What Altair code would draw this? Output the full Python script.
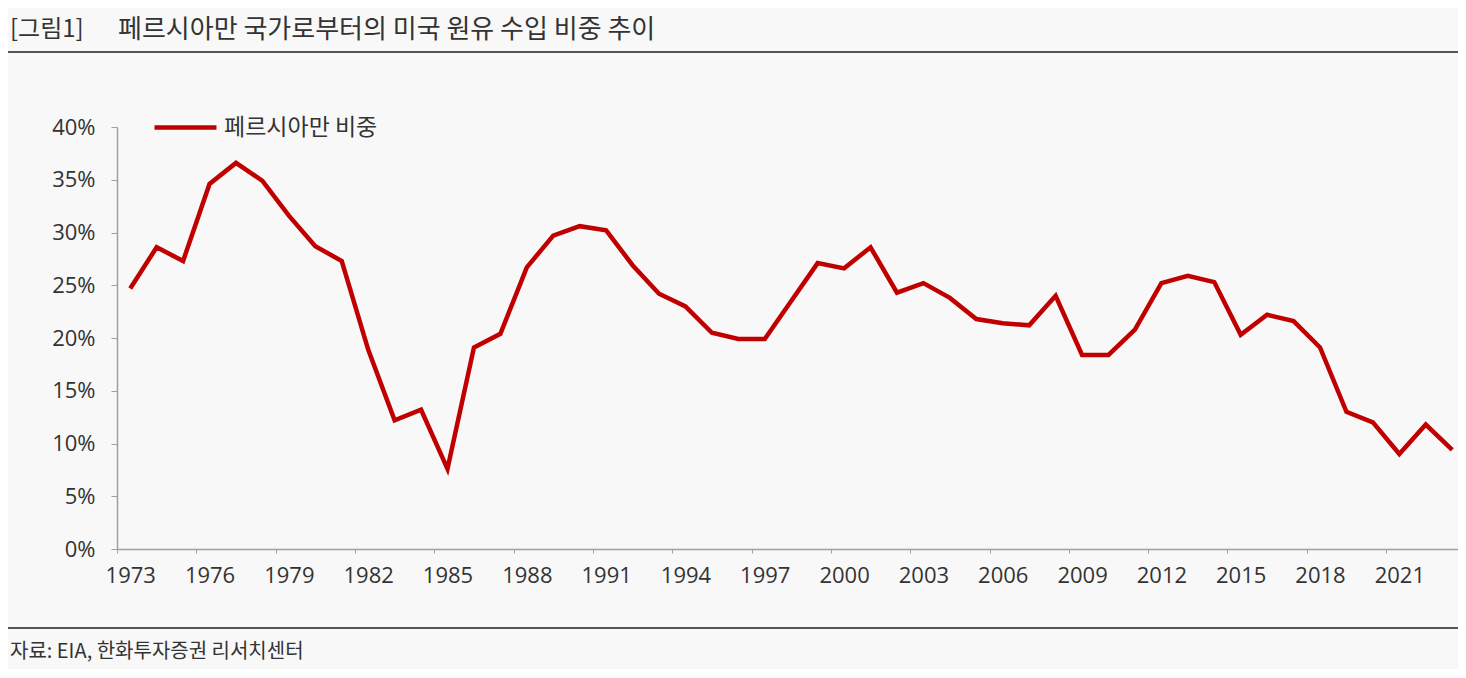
import altair as alt
import pandas as pd

# ---------------- data ----------------
years = list(range(1973, 2024))
share = [
    24.7, 28.6, 27.3, 34.6, 36.6, 34.9, 31.6, 28.7, 27.3, 18.9,   # 1973-1982
    12.2, 13.2, 7.6, 19.1, 20.4, 26.7, 29.7, 30.6, 30.2, 26.9,    # 1983-1992
    24.2, 23.0, 20.5, 19.9, 19.9, 23.5, 27.1, 26.6, 28.6, 24.3,   # 1993-2002
    25.2, 23.8, 21.8, 21.4, 21.2, 24.0, 18.4, 18.4, 20.8, 25.2,   # 2003-2012
    25.9, 25.3, 20.3, 22.2, 21.6, 19.1, 13.0, 12.0, 9.0, 11.8,    # 2013-2022
    9.4,                                                          # 2023
]
series_name = "페르시아만 비중"
title_tag = "[그림1]"
title_text = "페르시아만 국가로부터의 미국 원유 수입 비중 추이"
source_text = "자료: EIA, 한화투자증권 리서치센터"
x_tick_years = list(range(1973, 2022, 3))
y_tick_values = [0, 5, 10, 15, 20, 25, 30, 35, 40]

df = pd.DataFrame({"year": years, "share": share, "series": series_name})

# ---------------- layout ----------------
PX_PER_YEAR = 26.44
W = 1341
H = 422
PAD_L, PAD_T, PAD_B = 109, 119, 120
LINE_RED = "#c00000"
AXIS_GRAY = "#a0a0a0"
TEXT_DARK = "#333333"
KFONT = "Noto Sans CJK KR"
NFONT = "Open Sans"

x_scale = alt.Scale(domain=[1972.5, 1972.5 + W / PX_PER_YEAR], nice=False, zero=False)
y_scale = alt.Scale(domain=[0, 40], nice=False)

line = alt.Chart(df).mark_line(strokeWidth=4.5).encode(
    x=alt.X(
        "year:Q",
        scale=x_scale,
        axis=alt.Axis(
            values=x_tick_years,
            format="d",
            title=None,
            tickOffset=-PX_PER_YEAR / 2,
            labelOffset=PX_PER_YEAR / 2,
            labelFlush=False,
            labelOverlap=False,
            grid=False,
            tickSize=4,
            labelPadding=12,
            domainColor=AXIS_GRAY,
            tickColor=AXIS_GRAY,
            domainWidth=1.5,
            labelFont=NFONT,
            labelFontSize=22,
            labelColor=TEXT_DARK,
        ),
    ),
    y=alt.Y(
        "share:Q",
        scale=y_scale,
        axis=alt.Axis(
            values=y_tick_values,
            labelExpr="datum.value + '%'",
            title=None,
            grid=False,
            tickSize=6,
            labelPadding=16,
            domainColor=AXIS_GRAY,
            tickColor=AXIS_GRAY,
            domainWidth=1.5,
            labelFont=NFONT,
            labelFontSize=22,
            labelColor=TEXT_DARK,
        ),
    ),
    color=alt.Color(
        "series:N",
        scale=alt.Scale(domain=[series_name], range=[LINE_RED]),
        legend=alt.Legend(
            title=None,
            orient="none",
            legendX=35,
            legendY=-33,
            symbolType="stroke",
            symbolSize=3844,
            symbolStrokeWidth=4.5,
            labelFont=KFONT,
            labelFontSize=23,
            labelColor=TEXT_DARK,
            labelOffset=5,
            padding=0,
        ),
    ),
)

one = pd.DataFrame({"a": [0]})

header_rule = alt.Chart(one).mark_rule(color="#555555", strokeWidth=2).encode(
    x=alt.value(-PAD_L), x2=alt.value(W), y=alt.value(-75)
)
footer_rule = alt.Chart(one).mark_rule(color="#555555", strokeWidth=2).encode(
    x=alt.value(-PAD_L), x2=alt.value(W), y=alt.value(501)
)

tag_text = alt.Chart(pd.DataFrame({"t": [title_tag]})).mark_text(
    align="left", baseline="middle", font=KFONT, fontSize=24, color=TEXT_DARK
).encode(x=alt.value(-107), y=alt.value(-97), text="t:N")

main_title = alt.Chart(pd.DataFrame({"t": [title_text]})).mark_text(
    align="left", baseline="middle", font=KFONT, fontSize=26, color=TEXT_DARK
).encode(x=alt.value(1), y=alt.value(-97), text="t:N")

source = alt.Chart(pd.DataFrame({"t": [source_text]})).mark_text(
    align="left", baseline="middle", font=KFONT, fontSize=20, color=TEXT_DARK
).encode(x=alt.value(-107), y=alt.value(525), text="t:N")

chart = alt.layer(
    header_rule, footer_rule, tag_text, main_title, source, line
).properties(
    width=W,
    height=H,
    autosize="none",
    padding={"left": PAD_L, "top": PAD_T, "right": 0, "bottom": PAD_B},
).configure(
    background="#f8f8f8",
).configure_view(stroke=None)

chart.save("out.html", embed_options={"renderer": "svg", "actions": False})
